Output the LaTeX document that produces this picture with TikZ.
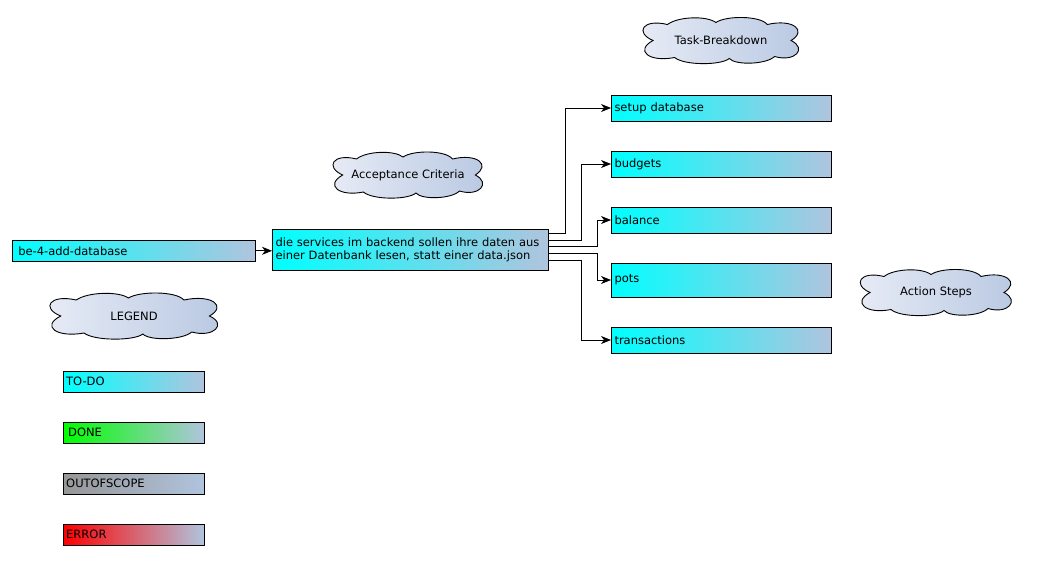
\documentclass[tikz,border=0pt]{standalone}
\usepackage{fontspec}
\setmainfont{DejaVu Sans}
\usetikzlibrary{arrows.meta,calc}
\definecolor{steel}{RGB}{176,196,222}
\definecolor{cloudleft}{RGB}{232,236,246}
\definecolor{cloudright}{RGB}{184,200,226}
\definecolor{outgray}{RGB}{150,150,150}
\newcommand{\makecloud}[4]{
	\begin{scope}[shift={(#1)},xscale=#3]
	\shade[left color=cloudleft, right color=cloudright, draw=black, line width=0.9pt]
		(-66,0) .. controls (-84,-8) and (-76,-22) .. (-52,-16)
		.. controls (-42,-24) and (-14,-25) .. (-5,-18)
		.. controls (5,-25) and (38,-25) .. (45,-16)
		.. controls (70,-22) and (84,-10) .. (68,0)
		.. controls (84,8) and (72,22) .. (52,16)
		.. controls (44,24) and (14,25) .. (8,18)
		.. controls (0,25) and (-36,25) .. (-45,17)
		.. controls (-70,22) and (-84,10) .. (-66,0) -- cycle;
	\end{scope}
	\node (#2) at (#1) {#4};
}

\begin{document}
\begin{tikzpicture}[x=1pt,y=-1pt,font=\fontsize{11.5}{13.5}\selectfont,
	box/.style={draw, line width=0.9pt, left color=cyan, right color=steel, align=left, inner xsep=3pt, inner ysep=0pt},
	arr/.style={-{Stealth[length=10pt,width=8pt,inset=3pt]}, line width=0.9pt}]
	\useasboundingbox (0,0) rectangle (1041,560);

	% clouds
	\makecloud{721,40.5}{tasklabel}{1.03}{Task-Breakdown}
	\makecloud{408,175}{acclabel}{0.99}{Acceptance Criteria}
	\makecloud{134,316}{legendlabel}{1.11}{LEGEND}
	\makecloud{936,292.5}{actionlabel}{1.0}{Action Steps}

	% story and criteria
	\node[box, text width=231pt, minimum height=21pt, inner xsep=6pt] (epic) at (133.8,250.8) {be-4-add-database};
	\node[box, text width=270pt, minimum height=41pt] (crit) at (410.5,250) {die services im backend sollen ihre daten aus\\einer Datenbank lesen, statt einer data.json};

	% tasks
	\node[box, text width=214pt, minimum height=26pt] (setup) at (721.5,108) {setup database};
	\node[box, text width=214pt, minimum height=26pt] (budgets) at (721.5,164) {budgets};
	\node[box, text width=214pt, minimum height=26pt] (balance) at (721.5,220) {balance};
	\node[box, text width=214pt, minimum height=34pt] (pots) at (721.5,280) {pots};
	\node[box, text width=214pt, minimum height=26pt] (transactions) at (721.5,340) {transactions};

	% legend
	\node[box, text width=135pt, minimum height=21pt] (todo) at (133.7,381.8) {TO-DO};
	\node[box, text width=131pt, minimum height=21pt, inner xsep=5pt, left color=green] (done) at (133.7,432.8) {DONE};
	\node[box, text width=135pt, minimum height=21pt, left color=outgray] (outofscope) at (133.7,483.8) {OUTOFSCOPE};
	\node[box, text width=135pt, minimum height=21pt, left color=red] (error) at (133.7,534.8) {ERROR};

	\draw[arr] (epic) -- (epic -| crit.west);
	\draw[arr] ([yshift=16.5pt]crit.east) -- ++(16,0) |- (setup);
	\draw[arr] ([yshift=9.7pt]crit.east) -- ++(32,0) |- (budgets);
	\draw[arr] ([yshift=3.3pt]crit.east) -- ++(48,0) |- (balance);
	\draw[arr] ([yshift=-3.3pt]crit.east) -- ++(48,0) |- (pots);
	\draw[arr] ([yshift=-10.3pt]crit.east) -- ++(32,0) |- (transactions);
\end{tikzpicture}
\end{document}
